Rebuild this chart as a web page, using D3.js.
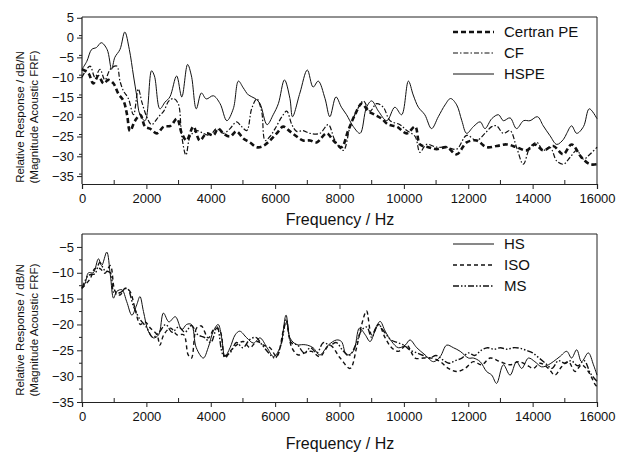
<!DOCTYPE html>
<html>
<head>
<meta charset="utf-8">
<script src="https://cdn.jsdelivr.net/npm/d3@7"></script>
<style>
  body { margin: 0; background: #fff; }
  text { font-family: "Liberation Sans", Arial, sans-serif; fill: #111; }
</style>
</head>
<body>
<svg id="svg1" width="628" height="455"></svg>
<script>
// top panel data [frequency Hz, dB/N]
var certranPE = [[0,-8],[200,-9],[350,-11.6],[510,-9.7],[670,-11.6],[820,-10.7],[980,-11.6],[1130,-14.2],[1290,-16],[1400,-19.5],[1490,-23.6],[1650,-21],[1810,-19.5],[1960,-22.5],[2110,-23],[2330,-24.2],[2540,-22.5],[2750,-22.3],[2950,-20.5],[3100,-24.2],[3250,-26],[3460,-22.5],[3660,-26],[3870,-24.2],[4080,-24.7],[4230,-23],[4390,-24.2],[4600,-25],[4800,-23.7],[5010,-25.5],[5220,-26.5],[5430,-27.7],[5630,-27.4],[5840,-26],[6050,-24.2],[6250,-22.5],[6460,-23.7],[6670,-25],[6870,-26],[7080,-26],[7290,-26.5],[7600,-24.2],[7810,-26],[8060,-27.7],[8270,-23.5],[8480,-19.5],[8690,-16.7],[8900,-18.6],[9100,-19.5],[9310,-20.5],[9520,-22],[9780,-22.5],[10090,-24.2],[10350,-22.5],[10500,-27],[10760,-27.7],[11020,-28.2],[11330,-27.7],[11640,-29.5],[11950,-26.5],[12260,-26],[12570,-27.7],[12880,-27.4],[13190,-27],[13500,-27.7],[13810,-28.5],[14070,-27],[14330,-28.5],[14640,-27.4],[14950,-29.5],[15210,-27],[15520,-30.3],[15780,-32],[16000,-32]];
var cf = [[0,-10],[250,-7.2],[400,-10],[560,-8],[710,-10.7],[880,-8],[1080,-7.2],[1180,-11],[1290,-13.5],[1440,-15.4],[1600,-19.5],[1750,-13],[1860,-16.3],[2010,-20],[2160,-22],[2380,-20],[2540,-18.6],[2700,-16],[2850,-15.4],[2990,-16.7],[3100,-25],[3230,-29.7],[3360,-25],[3560,-23.5],[3770,-24.2],[3980,-24.7],[4180,-23],[4390,-24.2],[4600,-23],[4800,-21.3],[4960,-22.5],[5120,-23.5],[5270,-18],[5430,-15.5],[5580,-18.6],[5690,-26],[5840,-25],[6000,-23],[6210,-20],[6360,-18.6],[6520,-22],[6670,-23.7],[6870,-23.5],[7080,-24.2],[7390,-24.2],[7650,-22],[7860,-26],[8120,-28.5],[8330,-22.5],[8530,-18.6],[8740,-16],[8950,-18.6],[9150,-16.7],[9360,-17.6],[9570,-21],[9880,-22],[10090,-23.5],[10350,-25],[10500,-29],[10700,-27],[11020,-27.7],[11330,-27.7],[11640,-28.2],[11950,-24.7],[12260,-26],[12520,-24.2],[12730,-22.5],[12880,-22.3],[13090,-24.2],[13300,-23.5],[13500,-27.7],[13710,-32],[13920,-27.7],[14130,-26.5],[14330,-28.5],[14540,-27.7],[14750,-31.2],[14960,-32],[15160,-30.3],[15370,-28.5],[15580,-30.7],[15780,-29.5],[16000,-27.7]];
var hspe = [[0,-8],[150,-6],[300,-3],[450,-2.5],[600,-1.3],[780,-3],[920,-8],[1020,-5],[1180,-3],[1330,1.4],[1470,-3],[1600,-9.7],[1700,-14.7],[1800,-19.5],[1960,-21],[2160,-8.4],[2250,-9.7],[2420,-18],[2580,-16.3],[2730,-15],[2940,-9.7],[3100,-15],[3280,-6.8],[3400,-9.7],[3550,-18],[3710,-14],[3860,-15.5],[4080,-14.7],[4290,-16.7],[4500,-21],[4700,-18],[4860,-11],[5010,-12.7],[5170,-14.5],[5380,-15.4],[5530,-16.7],[5750,-22],[5940,-19.5],[6100,-16.7],[6290,-10.7],[6460,-15.4],[6540,-20],[6770,-14],[7000,-8.2],[7180,-12.5],[7340,-11],[7550,-15.4],[7700,-20],[7890,-15],[8060,-17.6],[8220,-19.5],[8430,-22.5],[8640,-24.2],[8840,-17.6],[9000,-16],[9210,-18.6],[9470,-21],[9720,-17.6],[9930,-19.5],[10140,-11],[10290,-14.5],[10450,-17.6],[10650,-19.5],[10860,-23],[11070,-20],[11280,-17],[11450,-15.4],[11640,-17],[11800,-21],[11950,-24.2],[12160,-22.5],[12370,-21.3],[12520,-23],[12730,-20.5],[12940,-19.5],[13090,-21],[13300,-20.3],[13500,-23],[13720,-21],[13920,-21],[14150,-20],[14330,-22.3],[14540,-24.8],[14750,-27],[14960,-25.7],[15060,-24.2],[15210,-22.3],[15370,-24.2],[15580,-22.5],[15760,-18],[16000,-20.5]];

// bottom panel data
var hs = [[0,-13],[100,-12],[200,-10],[350,-10],[510,-7.3],[610,-8.6],[770,-6],[880,-10.4],[980,-14.9],[1080,-13.6],[1240,-13.3],[1390,-15.6],[1550,-18.2],[1700,-16.2],[1800,-14.6],[1910,-17.5],[2060,-21.3],[2220,-22.6],[2380,-22],[2530,-17.8],[2700,-19.5],[2900,-18.5],[3100,-21],[3250,-20],[3400,-20],[3550,-24.5],[3770,-26.5],[3920,-24.5],[4080,-21.3],[4230,-20],[4340,-22.6],[4440,-26.2],[4600,-24.5],[4760,-22],[4900,-21.3],[5120,-22.6],[5330,-23.6],[5530,-22.6],[5750,-24.5],[5950,-26.2],[6150,-24.5],[6340,-18.2],[6460,-22.6],[6670,-23.9],[6870,-23.9],[7000,-24],[7180,-24.5],[7390,-25.9],[7650,-24],[7910,-23],[8060,-23.3],[8220,-25.9],[8430,-25.2],[8620,-20.7],[8800,-22],[8950,-23.3],[9100,-21.3],[9260,-19.4],[9420,-21.3],[9620,-23.3],[9830,-24.5],[10040,-24],[10190,-23],[10400,-24.5],[10660,-25.9],[10920,-27.2],[11130,-26.2],[11330,-24],[11540,-24.5],[11750,-25.2],[12010,-26.5],[12160,-26.5],[12370,-27.2],[12570,-29.1],[12730,-29.8],[12880,-31.4],[13090,-27.8],[13300,-29.8],[13500,-27.2],[13660,-28.5],[13870,-26.5],[14070,-27.2],[14280,-28.2],[14490,-27.8],[14640,-27.2],[14850,-26.2],[15060,-25.2],[15210,-26.5],[15370,-24.9],[15520,-27.2],[15730,-25.5],[15890,-27.8],[16000,-29.8]];
var iso = [[0,-13],[250,-11.2],[400,-9.2],[560,-9.2],[710,-10.1],[880,-8.6],[1030,-13.6],[1180,-14.3],[1340,-13],[1490,-13.6],[1650,-17],[1810,-20],[1960,-19.5],[2120,-20.7],[2330,-22],[2420,-24],[2540,-22],[2750,-20.7],[2950,-22],[3160,-22],[3300,-25.9],[3400,-26.5],[3560,-20.7],[3710,-20.3],[3920,-22.6],[4130,-20.7],[4290,-21.3],[4440,-26.5],[4600,-25.2],[4800,-24],[5010,-23.3],[5220,-24.5],[5430,-23.3],[5640,-24],[5840,-24.5],[6050,-26.2],[6250,-21.3],[6340,-19.4],[6520,-24.5],[6720,-25.9],[6930,-25.5],[7130,-25.2],[7390,-26.2],[7700,-24],[8020,-26.5],[8330,-28.5],[8530,-24.5],[8690,-20],[8840,-17.4],[9000,-22],[9210,-20],[9420,-22.6],[9620,-24.5],[9830,-25.2],[10090,-24],[10350,-26.5],[10610,-26.5],[10860,-26.5],[11130,-27.2],[11380,-28.5],[11640,-29.1],[11900,-28.5],[12160,-27.2],[12420,-27.8],[12680,-26.5],[12990,-27.2],[13300,-27.8],[13550,-27.2],[13810,-27.8],[14020,-28.5],[14230,-27.5],[14490,-28.5],[14690,-29.8],[14900,-28.2],[15110,-27.2],[15320,-29.1],[15520,-27.8],[15730,-29.1],[15950,-31.7],[16000,-32]];
var ms = [[0,-13],[200,-10.5],[400,-10.2],[550,-8],[700,-9.5],[880,-10],[1000,-14],[1200,-13.8],[1400,-13],[1600,-16.5],[1800,-19],[2000,-20.5],[2200,-22.5],[2400,-21.5],[2600,-20],[2800,-21.5],[3000,-20.5],[3200,-21.5],[3400,-20.2],[3600,-22],[3800,-22.5],[4000,-23.5],[4200,-20.5],[4400,-26],[4600,-25.5],[4800,-23.5],[5000,-24.5],[5200,-23],[5400,-22.5],[5600,-24],[5800,-25.5],[6000,-26.5],[6200,-23.5],[6350,-19],[6500,-23.5],[6700,-24],[6900,-25.5],[7100,-24.5],[7300,-25.5],[7500,-23.5],[7700,-24],[7900,-23.5],[8100,-25],[8300,-26],[8500,-24],[8700,-21],[8850,-20.5],[9000,-22.5],[9200,-20],[9400,-21.5],[9600,-23],[9800,-23.5],[10000,-24],[10200,-25],[10400,-25.5],[10600,-26],[10800,-26.5],[11000,-26],[11200,-26.8],[11400,-27.5],[11600,-27],[11800,-26.5],[12000,-25.5],[12200,-26],[12400,-25],[12600,-24.5],[12800,-24.8],[13000,-24.5],[13200,-24.8],[13400,-24.5],[13600,-24.6],[13800,-25],[14000,-25.5],[14200,-26.5],[14400,-27.5],[14600,-28.5],[14800,-27],[15000,-27.5],[15200,-27],[15400,-28],[15600,-27],[15800,-29.5],[16000,-31]];

var xTicks = [0, 2000, 4000, 6000, 8000, 10000, 12000, 14000, 16000];
var yTicksTop = [5, 0, -5, -10, -15, -20, -25, -30, -35];
var yTicksBottom = [-5, -10, -15, -20, -25, -30, -35];

var svg = d3.select("#svg1");

function panel(opt) {
  var x = d3.scaleLinear().domain([0, 16000]).range([82, 597]);
  var y = d3.scaleLinear().domain(opt.ydom).range([opt.bottom, opt.top]);
  var g = svg.append("g");

  // frame top + right
  g.append("path")
      .attr("d", "M82," + opt.top + "H597V" + opt.bottom)
      .attr("fill", "none").attr("stroke", "#222").attr("stroke-width", 1);

  // minor ticks
  var minorX = d3.range(1000, 16000, 2000);
  g.selectAll(".mx").data(minorX).enter().append("line")
      .attr("x1", x).attr("x2", x)
      .attr("y1", opt.bottom).attr("y2", opt.bottom - 4)
      .attr("stroke", "#222");
  var minorY = d3.range(opt.ydom[0] + 2.5, opt.ydom[1], 5);
  g.selectAll(".my").data(minorY).enter().append("line")
      .attr("x1", 82).attr("x2", 79)
      .attr("y1", y).attr("y2", y)
      .attr("stroke", "#222");

  var xAxis = d3.axisBottom(x).tickValues(xTicks).tickSize(5).tickPadding(5).tickFormat(d3.format("d"));
  var yAxis = d3.axisLeft(y).tickValues(opt.yticks).tickSize(5).tickPadding(3).tickFormat(d3.format("d"));

  var gx = g.append("g").attr("transform", "translate(0," + opt.bottom + ")").call(xAxis);
  var gy = g.append("g").attr("transform", "translate(82,0)").call(yAxis);
  [gx, gy].forEach(function(a) {
    a.select(".domain").attr("stroke", "#222").attr("stroke-width", 1.2);
    a.selectAll(".tick line").attr("stroke", "#222");
    a.selectAll("text").attr("font-size", 13).attr("font-family", "Liberation Sans, Arial, sans-serif").attr("fill", "#111");
  });
  gy.select(".domain").attr("d", "M82," + opt.bottom + "V" + opt.top).attr("transform", "translate(-82,0)");

  var line = d3.line()
      .curve(d3.curveCatmullRom.alpha(0.5))
      .x(function(d) { return x(d[0]); })
      .y(function(d) { return y(d[1]); });

  opt.series.forEach(function(s) {
    g.append("path")
        .datum(s.data)
        .attr("d", line)
        .attr("fill", "none")
        .attr("stroke", "#111")
        .attr("stroke-width", s.width)
        .attr("stroke-dasharray", s.dash)
        .attr("stroke-linejoin", "round");
  });

  // legend
  opt.series.forEach(function(s, i) {
    var ly = opt.legendY + i * 21;
    g.append("line")
        .attr("x1", 453).attr("x2", 494)
        .attr("y1", ly).attr("y2", ly)
        .attr("stroke", "#111")
        .attr("stroke-width", s.width)
        .attr("stroke-dasharray", s.dash);
    g.append("text")
        .attr("x", 504).attr("y", ly + 5)
        .attr("font-size", 15)
        .text(s.name);
  });

  g.append("text")
      .attr("x", 340).attr("y", opt.bottom + opt.titleGap)
      .attr("text-anchor", "middle")
      .attr("font-size", 16)
      .text("Frequency / Hz");

  var ymid = opt.labelMid;
  g.append("text")
      .attr("transform", "translate(24," + ymid + ") rotate(-90)")
      .attr("text-anchor", "middle")
      .attr("font-size", 11.5)
      .text("Relative Response / dB/N");
  g.append("text")
      .attr("transform", "translate(38," + ymid + ") rotate(-90)")
      .attr("text-anchor", "middle")
      .attr("font-size", 11.5)
      .text("(Magnitude Acoustic FRF)");
}

panel({
  top: 17, bottom: 184, ydom: [-37, 5.2], yticks: yTicksTop,
  legendY: 32, labelMid: 117, titleGap: 41,
  series: [
    {name: "Certran PE", data: certranPE, width: 2.6, dash: "5,3"},
    {name: "CF", data: cf, width: 1.2, dash: "5,2,1.5,2"},
    {name: "HSPE", data: hspe, width: 1, dash: null}
  ]
});

panel({
  top: 234, bottom: 402, ydom: [-35, -2.5], yticks: yTicksBottom,
  legendY: 244, labelMid: 330, titleGap: 47,
  series: [
    {name: "HS", data: hs, width: 1, dash: null},
    {name: "ISO", data: iso, width: 1.4, dash: "4,3"},
    {name: "MS", data: ms, width: 1.4, dash: "6,2,1.5,2,1.5,2"}
  ]
});
</script>
</body>
</html>
